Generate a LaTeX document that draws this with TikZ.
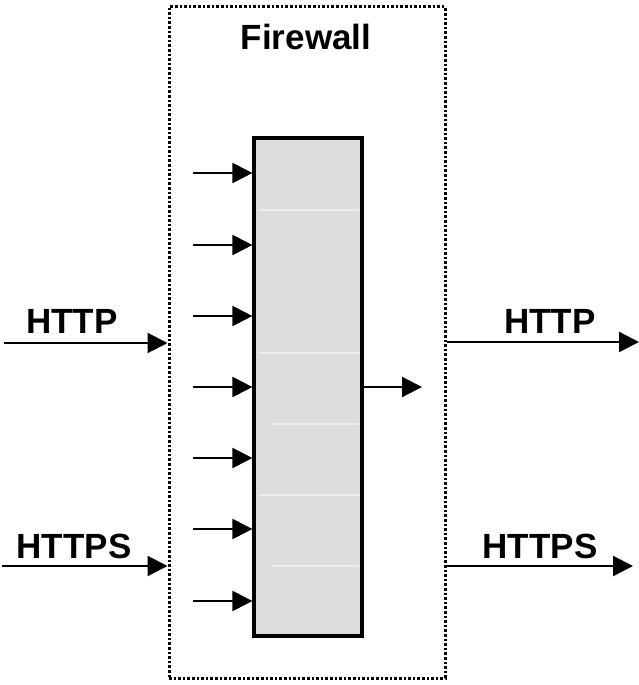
\documentclass[tikz,border=0pt]{standalone}
\usepackage{fontspec}
\setmainfont{Liberation Sans}
\usetikzlibrary{arrows.meta}
\definecolor{boxgray}{RGB}{220,220,220}
\definecolor{seam}{RGB}{236,236,236}
\begin{document}
\begin{tikzpicture}[x=1pt,y=-1pt,
  lbl/.style={font=\fontsize{35}{42}\selectfont\bfseries, inner sep=0pt, anchor=base},
  arr/.style={line width=2.2pt, -{Triangle[length=20pt,width=20pt]}},
  fwbox/.style={draw, line width=3pt, dash pattern=on 2.6pt off 2pt, minimum width=276pt, minimum height=671pt, inner sep=0pt},
  graybox/.style={draw, fill=boxgray, line width=3.2pt, minimum width=108pt, minimum height=498pt, inner sep=0pt},
  seamline/.style={seam, line width=2pt}]
\useasboundingbox (0,0) rectangle (639,685);
\node[fwbox] (fw) at (307,342.5) {};
\node[graybox] (gb) at (308,387) {};
\node[lbl] (title) at (306,50) {Firewall};
% faint seams inside gray box
\foreach \yy/\xs in {210/258,353/258,424/272,495/258,566/272}{
  \draw[seamline] (\xs,\yy) -- (359,\yy);
}
% small input arrows
\foreach \i/\yy in {1/173,2/245,3/316,4/387,5/458,6/529,7/601}{
  \coordinate (s\i) at (193,\yy);
  \coordinate (e\i) at (gb.west |- s\i);
  \draw[arr] (s\i) -- (e\i);
}
% output arrow
\coordinate (outend) at (422,387);
\draw[arr] (gb.east |- outend) -- (outend);
% left arrows
\coordinate (lhttp) at (4,343);
\coordinate (lhttps) at (2,566);
\draw[arr] (lhttp) -- (fw.west |- lhttp);
\draw[arr] (lhttps) -- (fw.west |- lhttps);
\node[lbl] (lhttpl) at (72,333) {HTTP};
\node[lbl] (lhttpsl) at (74,558) {HTTPS};
% right arrows
\coordinate (rhttp) at (639,342);
\coordinate (rhttps) at (633,566);
\draw[arr] (fw.east |- rhttp) -- (rhttp);
\draw[arr] (fw.east |- rhttps) -- (rhttps);
\node[lbl] (rhttpl) at (550,333) {HTTP};
\node[lbl] (rhttpsl) at (540,558) {HTTPS};
\end{tikzpicture}
\end{document}
